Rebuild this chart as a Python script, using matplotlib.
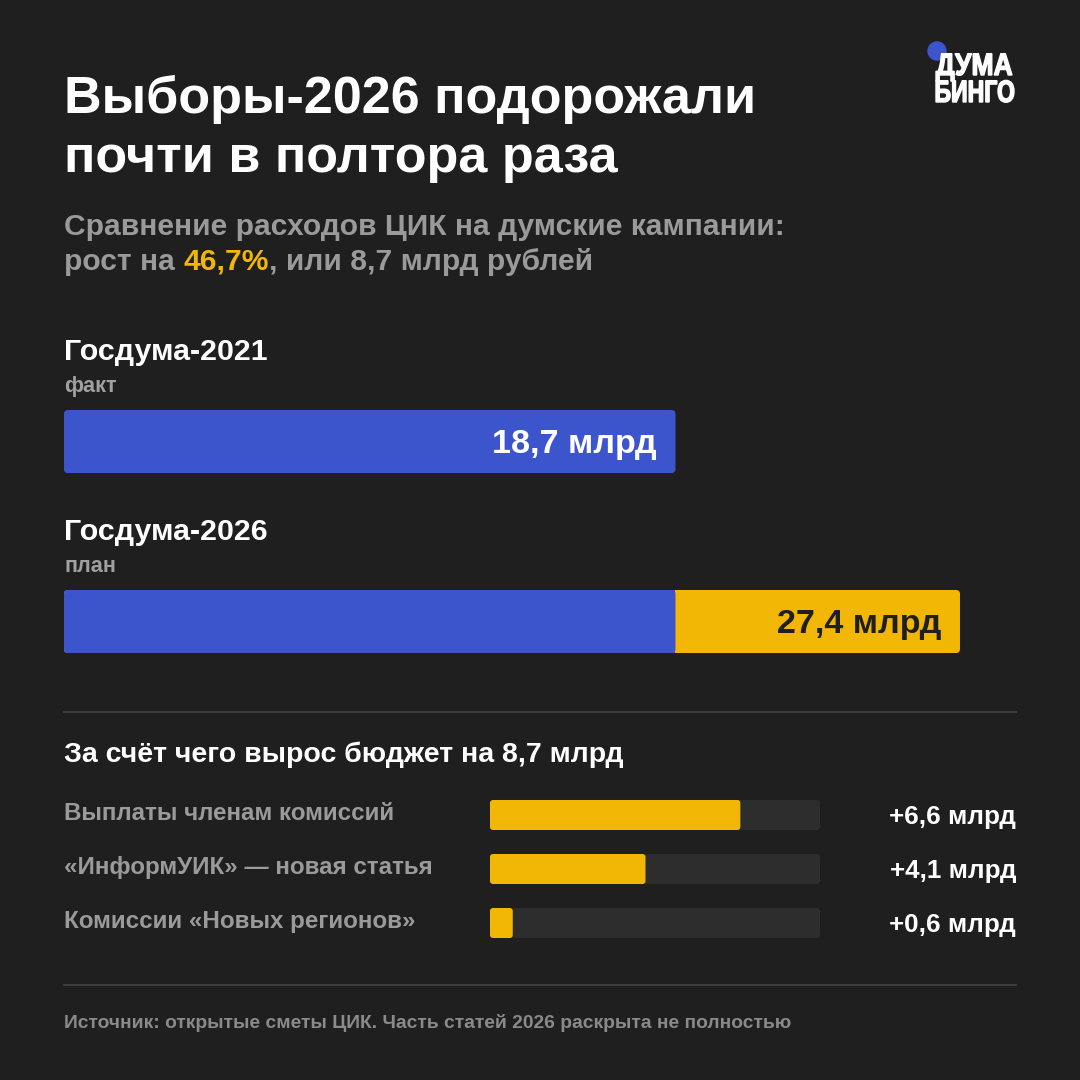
import matplotlib
matplotlib.use("Agg")
import matplotlib.pyplot as plt
from matplotlib.patches import Circle, FancyBboxPatch, PathPatch
from matplotlib.textpath import TextPath
from matplotlib.font_manager import FontProperties
from matplotlib.transforms import Affine2D

W = H = 1080
BG = "#1f1f1f"
BLUE = "#3d55cc"
YELLOW = "#f2b705"
TRACK = "#2d2d2d"
GRAY = "#9a9a9a"
WHITE = "#ffffff"

# main comparison
years = ["Госдума-2021", "Госдума-2026"]
kinds = ["факт", "план"]
totals = [18.7, 27.4]
value_labels = ["18,7 млрд", "27,4 млрд"]
base_2021 = 18.7
growth = 8.7

# breakdown of growth
items = ["Выплаты членам комиссий", "«ИнформУИК» — новая статья", "Комиссии «Новых регионов»"]
item_values = [6.6, 4.1, 0.6]
item_labels = ["+6,6 млрд", "+4,1 млрд", "+0,6 млрд"]

plt.rcParams["font.family"] = ["Liberation Sans", "DejaVu Sans"]
plt.rcParams["font.weight"] = "bold"

fig = plt.figure(figsize=(W / 100, H / 100), dpi=100, facecolor=BG)


def px(x, y):
    return x / W, 1 - y / H


def text(x, y, s, size, color=WHITE, **kw):
    kw.setdefault("va", "baseline")
    return fig.text(*px(x, y), s, fontsize=size, color=color, fontweight="bold", **kw)


def rbar(ax, yc, left, width, height, color, r_px, px_per_unit, zorder=2):
    """Rounded horizontal bar; x in data units, y in pixel units."""
    box = FancyBboxPatch((left, yc - height / 2), width, height,
                         boxstyle=f"round,pad=0,rounding_size={r_px / px_per_unit}",
                         mutation_aspect=px_per_unit, fc=color, ec="none", zorder=zorder)
    ax.add_patch(box)


# title + subtitle
text(64, 113, "Выборы-2026 подорожали", 37.5)
text(64, 172, "почти в полтора раза", 37.5)
text(64, 235, "Сравнение расходов ЦИК на думские кампании:", 21.6, GRAY)

renderer = fig.canvas.get_renderer()
x = 64
for part, col in [("рост на ", GRAY), ("46,7%", YELLOW), (", или 8,7 млрд рублей", GRAY)]:
    t = text(x, 270, part, 21.6, col)
    x += t.get_window_extent(renderer).width

# logo (condensed by squeezing the glyph outlines)
logo = fig.add_axes([0, 0, 1, 1], facecolor="none")
logo.set_xlim(0, W)
logo.set_ylim(H, 0)
logo.axis("off")
logo.add_patch(Circle((937, 51), 9, color=BLUE, zorder=1))
fp = FontProperties(family="Liberation Sans", weight="bold")
for s, yb, right in [("ДУМА", 75, 1012), ("БИНГО", 102, 1014)]:
    tp = TextPath((0, 0), s, size=31, prop=fp)
    ext = tp.get_extents()
    sx = (right - 936) / ext.width
    tr = Affine2D().translate(-ext.x0, 0).scale(sx, -1).translate(936, yb)
    logo.add_patch(PathPatch(tr.transform_path(tp), fc=WHITE, ec=WHITE, lw=1.0, zorder=2))

# main bars
scale = 32.7  # px per bln
ax = fig.add_axes([64 / W, 0, 952 / W, 1], facecolor="none")
ax.set_xlim(0, 952 / scale)
ax.set_ylim(H, 0)
ax.axis("off")

label_y = [360, 540]
bar_y = [441.5, 621.5]
rbar(ax, bar_y[0], 0, totals[0], 63, BLUE, 4, scale)
rbar(ax, bar_y[1], 0, totals[1], 63, YELLOW, 4, scale)
rbar(ax, bar_y[1], 0, base_2021, 63, BLUE, 4, scale, zorder=3)
ax.barh(bar_y[1], 0.3, left=base_2021 - 0.3, height=63, color=BLUE, zorder=3)

for i in range(2):
    text(64, label_y[i], years[i], 21.9)
    text(64, label_y[i] + 32, kinds[i], 15.6, "#a0a0a0")
    ax.text(totals[i] - 19 / scale, bar_y[i], value_labels[i], fontsize=24.6, fontweight="bold",
            color=WHITE if i == 0 else BG, ha="right", va="center_baseline", zorder=4)

# dividers
for yl in [712, 985]:
    fig.add_artist(plt.Line2D([64 / W, 1016 / W], [1 - yl / H] * 2, color="#3c3c3c", lw=1.5))

text(64, 762, "За счёт чего вырос бюджет на 8,7 млрд", 20.5)

# breakdown bars
bscale = 330 / growth
bx = fig.add_axes([490 / W, 0, 330 / W, 1], facecolor="none")
bx.set_xlim(0, growth)
bx.set_ylim(H, 0)
bx.axis("off")
row_y = [815, 869, 923]
for i in range(3):
    rbar(bx, row_y[i], 0, growth, 30, TRACK, 3, bscale)
    rbar(bx, row_y[i], 0, item_values[i], 30, YELLOW, 3, bscale, zorder=3)
    text(64, row_y[i] + 5, items[i], 17.4, GRAY)
    text(1016, row_y[i] + 9, item_labels[i], 18.7, ha="right")

text(64, 1028, "Источник: открытые сметы ЦИК. Часть статей 2026 раскрыта не полностью", 13.9, "#8a8a8a")

fig.savefig("out.png", dpi=100, facecolor=BG)
